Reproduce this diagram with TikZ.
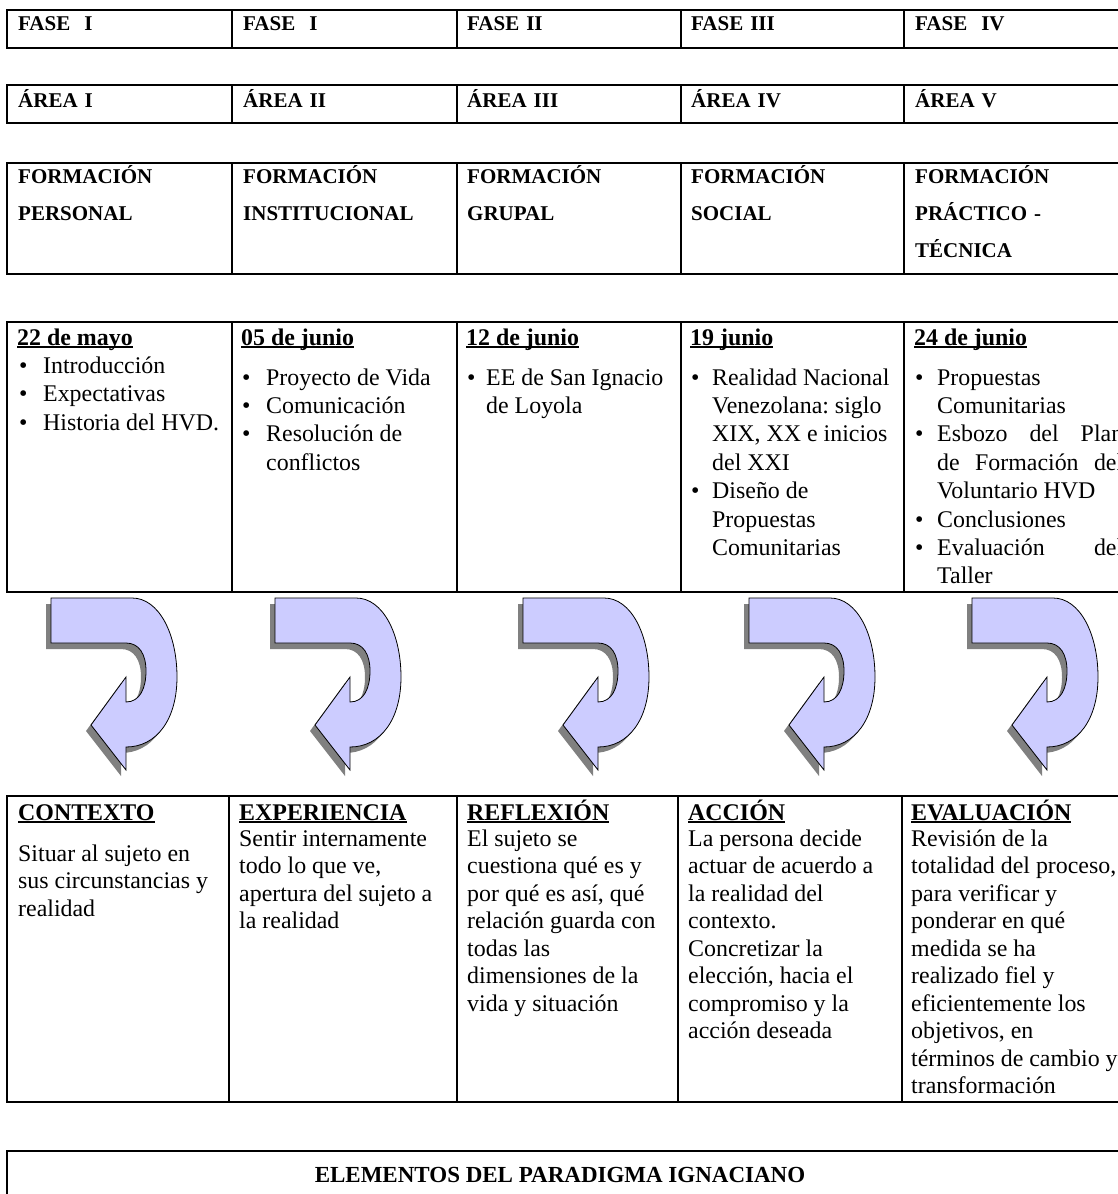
\documentclass[tikz,border=0pt]{standalone}
\usepackage{fontspec}
\setmainfont{Liberation Serif}
\definecolor{lilac}{RGB}{204,204,255}
\newsavebox\ulbox
\newcommand{\ulined}[1]{\leavevmode\sbox\ulbox{#1}\rlap{\rule[-3pt]{\wd\ulbox}{1.6pt}}\usebox\ulbox}
\newcommand{\dhead}[1]{\ulined{\textbf{#1}}}
\newcommand{\bul}[2]{\makebox[#2pt][l]{\hspace*{#1pt}\textbullet}}
\newcommand{\cont}[1]{\hspace*{#1pt}}
\newcommand{\jline}[1]{\makebox[186pt][s]{\spaceskip=0.25em plus 1fil\relax #1}}
\newcommand{\turnpath}{(0,0) -- (81,0) .. controls (108,0) and (126,36) .. (126,79)
  .. controls (126,121) and (106,149) .. (75,149) -- (75,172) -- (40,127) -- (75,79) -- (75,104)
  .. controls (89,104) and (95,90) .. (95,73) .. controls (95,56) and (88,45) .. (75,45) -- (0,45) -- cycle}

\begin{document}
\begin{tikzpicture}[x=1pt, y=-1pt]
  \tikzset{tabline/.style={line width=2pt},
    headtxt/.style={anchor=base west, inner sep=0pt, text width=220pt, align=left, font=\fontsize{21}{37}\selectfont\bfseries},
    datetxt/.style={anchor=base west, inner sep=0pt, text width=220pt, align=left, font=\fontsize{23.9}{28.4}\selectfont,
      execute at begin node={\spaceskip=0pt\frenchspacing}},
    stagetxt/.style={datetxt, font=\fontsize{23.9}{27.5}\selectfont},
    pics/turnarrow/.style={code={
        \fill[black!50, shift={(-5,6)}] \turnpath;
        \filldraw[fill=lilac, draw=black, line width=0.8pt] \turnpath;}}}
  \useasboundingbox (0,0) rectangle (1118,1194);
  \clip (0,0) rectangle (1118,1194);
  % upper rows
  \foreach \ytop/\ybot in {10/48, 85/123, 163/274, 322/592} {
    \draw[tabline] (1130,\ytop) -- (7,\ytop) -- (7,\ybot) -- (1130,\ybot);
    \foreach \x in {232,457,681,904} \draw[tabline] (\x,\ytop) -- (\x,\ybot);
  }
  % lower table and title box
  \draw[tabline] (1130,796) -- (7,796) -- (7,1102) -- (1130,1102);
  \foreach \x in {229,457,678,902} \draw[tabline] (\x,796) -- (\x,1102);
  \draw[tabline] (7,1200) -- (7,1151) -- (1130,1151);

  \foreach \x/\txt [count=\i] in {18/{FASE\ \ I}, 243/{FASE\ \ I}, 467/{FASE II}, 691/{FASE III}, 915/{FASE\ \ IV}}
    \node[headtxt] (fase\i) at (\x,30) {\txt};
  \foreach \x/\txt [count=\i] in {18/{ÁREA I}, 243/{ÁREA II}, 467/{ÁREA III}, 691/{ÁREA IV}, 915/{ÁREA V}}
    \node[headtxt] (area\i) at (\x,107) {\txt};
  \foreach \x/\txt [count=\i] in {18/PERSONAL, 243/INSTITUCIONAL, 467/GRUPAL, 691/SOCIAL, 915/{PRÁCTICO -\\TÉCNICA}}
    \node[headtxt] (form\i) at (\x,183) {FORMACIÓN\\\txt};

  % sessions
  \node[datetxt] (fecha1) at (17,345) {\dhead{22 de mayo}\\
    \bul{2}{26}Introducción\\
    \bul{2}{26}Expectativas\\
    \bul{2}{26}Historia del HVD.};
  \node[datetxt] (fecha2) at (241,345) {\dhead{05 de junio}\\[11.7pt]
    \bul{1}{25}Proyecto de Vida\\
    \bul{1}{25}Comunicación\\
    \bul{1}{25}Resolución de\\ \cont{25}conflictos};
  \node[datetxt] (fecha3) at (466,345) {\dhead{12 de junio}\\[11.7pt]
    \bul{1}{20}EE de San Ignacio\\ \cont{20}de Loyola};
  \node[datetxt] (fecha4) at (690,345) {\dhead{19 junio}\\[11.7pt]
    \bul{1}{22}Realidad Nacional\\ \cont{22}Venezolana: siglo\\ \cont{22}XIX, XX e inicios\\ \cont{22}del XXI\\
    \bul{1}{22}Diseño de\\ \cont{22}Propuestas\\ \cont{22}Comunitarias};
  \node[datetxt] (fecha5) at (914,345) {\dhead{24 de junio}\\[11.7pt]
    \bul{1}{23}Propuestas\\ \cont{23}Comunitarias\\
    \bul{1}{23}\jline{Esbozo del Plan}\\ \cont{23}\jline{de Formación del}\\ \cont{23}Voluntario HVD\\
    \bul{1}{23}Conclusiones\\
    \bul{1}{23}\jline{Evaluación del}\\ \cont{23}Taller};

  % arrows
  \foreach \x [count=\i] in {51,275,523,749,972}
    \pic (flecha\i) at (\x,598) {turnarrow};

  % paradigm stages
  \node[stagetxt] (etapa1) at (18,820) {\dhead{CONTEXTO}\\[13.5pt]
    Situar al sujeto en\\ sus circunstancias y\\ realidad};
  \node[stagetxt] (etapa2) at (239,820) {\dhead{EXPERIENCIA}\\[-1.5pt]
    Sentir internamente\\ todo lo que ve,\\ apertura del sujeto a\\ la realidad};
  \node[stagetxt] (etapa3) at (467,820) {\dhead{REFLEXIÓN}\\[-1.5pt]
    El sujeto se\\ cuestiona qué es y\\ por qué es así, qué\\ relación guarda con\\ todas las\\ dimensiones de la\\ vida y situación};
  \node[stagetxt] (etapa4) at (688,820) {\dhead{ACCIÓN}\\[-1.5pt]
    La persona decide\\ actuar de acuerdo a\\ la realidad del\\ contexto.\\ Concretizar la\\ elección, hacia el\\ compromiso y la\\ acción deseada};
  \node[stagetxt] (etapa5) at (911,820) {\dhead{EVALUACIÓN}\\[-1.5pt]
    Revisión de la\\ totalidad del proceso,\\ para verificar y\\ ponderar en qué\\ medida se ha\\ realizado fiel y\\ eficientemente los\\ objetivos, en\\ términos de cambio y\\ transformación};

  \node[anchor=base, inner sep=0pt, font=\fontsize{23}{28}\selectfont\bfseries] (paradigma) at (560,1182) {ELEMENTOS DEL PARADIGMA IGNACIANO};
\end{tikzpicture}
\end{document}
